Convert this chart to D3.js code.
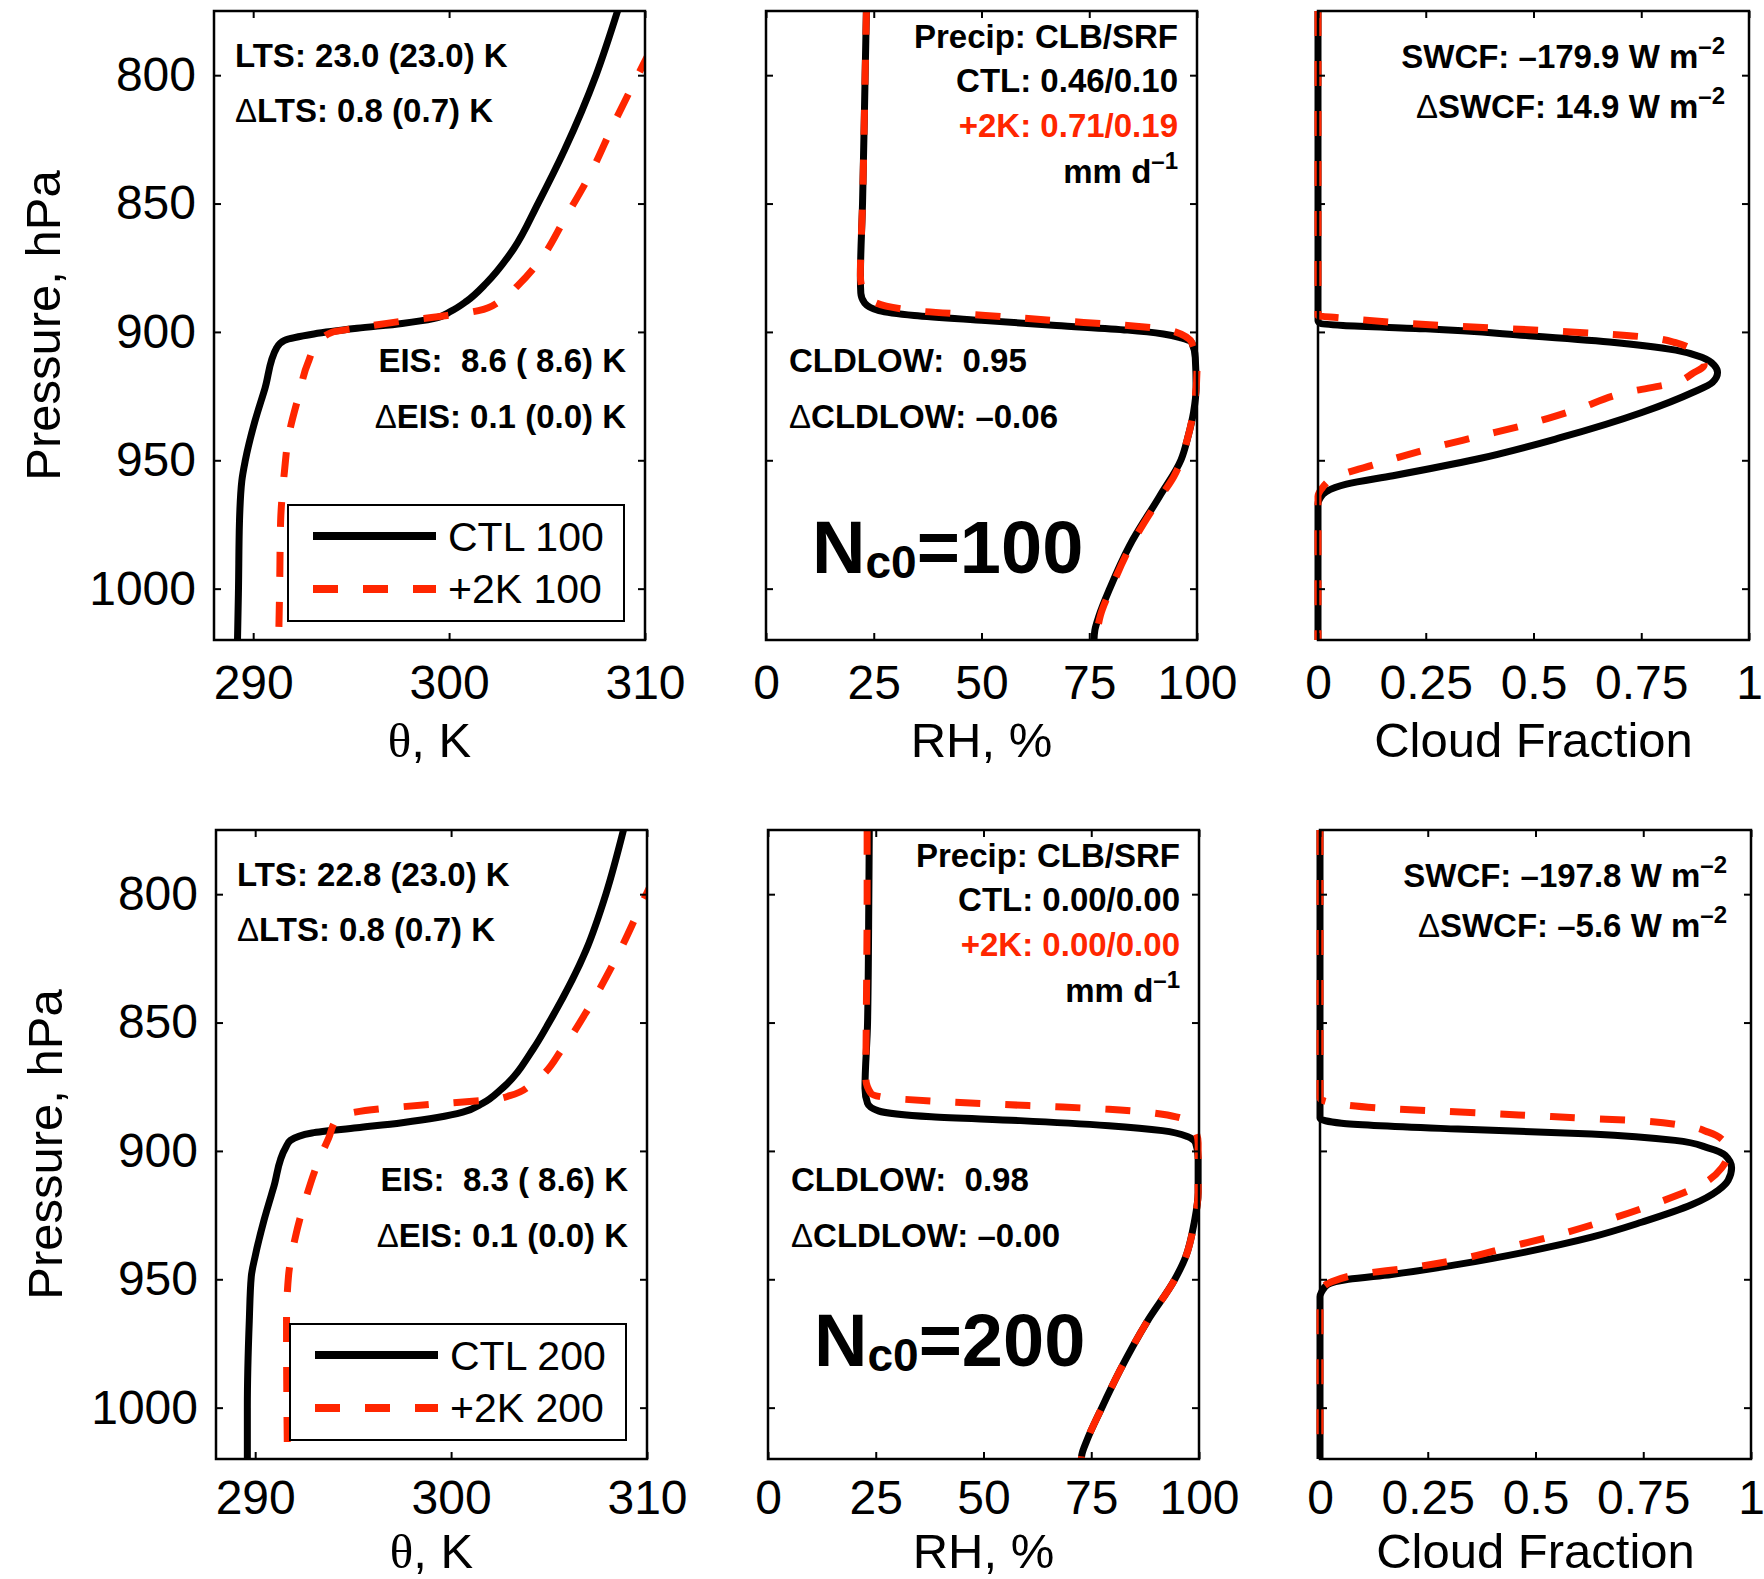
<!DOCTYPE html>
<html>
<head>
<meta charset="utf-8">
<script src="https://cdn.jsdelivr.net/npm/d3@7"></script>
<style>
  body { margin: 0; background: #fff; }
  text { font-family: "Liberation Sans", Arial, Helvetica, sans-serif; }
</style>
</head>
<body>
<div id="chart"></div>
<script>
// ---- data: [pressure hPa, value] ----
var thetaCtl100 = [[775,308.6],[800,307.5],[829,305.9],[849.8,304.55],[867.6,303.3],[881,301.9],[888,300.9],[891.9,300.1],[894.8,299.2],[896.7,297.6],[898.6,295.3],[900.8,293.1],[903.3,291.6],[906.2,291.2],[922,290.6],[935,290.08],[950,289.6],[958,289.42],[974,289.3],[1000,289.25],[1020,289.2]];
var thetaWarm100 = [[790,310.3],[796,309.9],[819,308.4],[838.6,307.2],[856,305.9],[871.5,304.7],[882,303.5],[888,302.6],[891.7,301.5],[893.6,299.9],[895.8,297.6],[898.5,295.3],[900.2,294.0],[904.4,293.3],[912,292.8],[925.5,292.3],[941,291.8],[954,291.6],[974,291.4],[1000,291.35],[1020,291.3]];
var thetaCtl200 = [[775,308.8],[800,307.9],[821.6,306.9],[850,305.0],[860.2,304.2],[875.7,302.6],[881.5,301.6],[884.9,300.6],[887,299.3],[889,297.5],[891,295.2],[893,292.9],[895.9,291.8],[898.8,291.55],[914,290.95],[927,290.45],[941,290.0],[949,289.8],[966,289.7],[1000,289.6],[1020,289.6]];
var thetaWarm200 = [[793,310.4],[799.4,310.0],[825.3,308.4],[844.6,307.0],[860,305.7],[872.7,304.3],[878.5,303.0],[880,302.1],[881.4,299.8],[882.8,297.5],[884.9,295.1],[887.3,294.2],[895,293.75],[904.6,293.2],[918.1,292.6],[933.6,292.05],[948.8,291.7],[966.2,291.6],[1000,291.62],[1020,291.65]];

var rhCtl100 = [[774.5,23.3],[800,23.0],[849.8,22.4],[879.2,21.9],[884.9,22.0],[888.8,22.9],[891.7,26.2],[893.6,34.4],[895.6,50.9],[897.5,67.4],[899.3,83.9],[900.8,92.2],[902.3,96.3],[904.2,98.8],[910,99.6],[921.6,99.8],[931.3,99.2],[940.9,97.9],[949.8,96.3],[964.1,91.3],[983.4,84.3],[999.8,79.8],[1010.4,77.3],[1016.2,76.3],[1020,76.1]];
var rhWarm100 = [[774.5,23.3],[800,23.0],[849.8,22.4],[878,21.9],[883,22.3],[887.8,24.5],[891.7,34.4],[893.6,50.9],[895.6,67.4],[897.5,83.9],[899.4,93.8],[904.2,98.8],[913.9,100],[925.5,99.6],[940.9,97.9],[956.4,94.6],[964.1,91.6],[983.4,84.6],[999.8,80.1],[1010.4,77.6],[1020,76.6]];
var rhCtl200 = [[774.9,23.5],[800,23.4],[850,23.1],[875.7,22.5],[881.5,23.1],[884.4,25.6],[886.7,37.9],[888.2,58.5],[890.2,79.1],[892.1,91.5],[894.4,97.3],[896.9,99.2],[902.7,99.8],[916.2,99.8],[927.8,98.9],[941.3,96.9],[950,94.4],[966.4,88.0],[985.7,81.6],[1000.2,77.4],[1012.7,74.0],[1018.5,72.8],[1020,72.7]];
var rhWarm200 = [[774.9,23.0],[800,23.0],[850,22.8],[871.8,22.7],[877.6,23.9],[879.5,28.9],[880.9,42.0],[881.9,54.4],[882.8,66.8],[883.8,79.1],[885.7,91.5],[889.2,98.1],[896.9,99.8],[916.2,99.8],[927.8,98.9],[941.3,96.9],[950,94.4],[966.4,88.0],[985.7,81.6],[1000.2,77.4],[1012.7,74.0],[1018.5,72.8],[1020,72.7]];

var cfCtl100 = [[775,0],[895.6,0],[896.7,0.005],[897.5,0.058],[898.8,0.25],[901.4,0.483],[903.9,0.676],[907.1,0.83],[910,0.892],[912.9,0.919],[915.8,0.927],[919.7,0.915],[923.6,0.869],[931.3,0.753],[941.3,0.56],[949.6,0.367],[956,0.174],[959.3,0.066],[962.2,0.019],[965,0.004],[967,0],[1020,0]];
var cfWarm100 = [[775,0],[893.6,0],[894.6,0.058],[897.5,0.29],[899.4,0.521],[901.9,0.753],[904.2,0.83],[909.1,0.884],[912.9,0.896],[916.2,0.869],[919.7,0.83],[923.6,0.714],[930.3,0.598],[936.1,0.483],[940.9,0.367],[945.8,0.251],[951.5,0.135],[956.4,0.042],[961.2,0.008],[964,0],[1020,0]];
var cfCtl200 = [[775,0],[887.3,0],[889.2,0.05],[891.5,0.32],[893.4,0.63],[895.9,0.824],[898.8,0.90],[901.7,0.94],[906.6,0.955],[911.4,0.947],[915.3,0.924],[921,0.862],[927.8,0.746],[933.6,0.63],[939.4,0.476],[944.2,0.321],[948.1,0.166],[950,0.066],[951.9,0.019],[954.8,0.004],[956.8,0],[1020,0]];
var cfWarm200 = [[775,0],[879.5,0],[881.5,0.035],[883.4,0.151],[884.4,0.267],[885.3,0.383],[886.3,0.499],[887.3,0.615],[888.2,0.731],[890.2,0.847],[892.7,0.901],[896.9,0.94],[900.8,0.947],[906.6,0.932],[912.4,0.893],[920.1,0.785],[926.8,0.669],[932.6,0.553],[937.5,0.437],[942.3,0.321],[945.6,0.205],[948.1,0.089],[951,0.027],[953.9,0.004],[956.8,0],[1020,0]];

// ---- axes / labels ----
var pRange = [775, 1020];
var pTicks = [800, 850, 900, 950, 1000];
var thetaTicks = [290, 300, 310];
var rhTicks = [0, 25, 50, 75, 100];
var cfTicks = [0, 0.25, 0.5, 0.75, 1];
var cfTickLabels = ["0", "0.25", "0.5", "0.75", "1"];

var ncLabels = ["100", "200"];
var legendCtl = ["CTL 100", "CTL 200"];
var legendWarm = ["+2K 100", "+2K 200"];
var ltsText = ["LTS: 23.0 (23.0) K", "LTS: 22.8 (23.0) K"];
var dltsText = ["ΔLTS: 0.8 (0.7) K", "ΔLTS: 0.8 (0.7) K"];
var eisText = ["EIS:  8.6 ( 8.6) K", "EIS:  8.3 ( 8.6) K"];
var deisText = ["ΔEIS: 0.1 (0.0) K", "ΔEIS: 0.1 (0.0) K"];
var precipCtl = ["CTL: 0.46/0.10", "CTL: 0.00/0.00"];
var precipWarm = ["+2K: 0.71/0.19", "+2K: 0.00/0.00"];
var cldlowText = ["CLDLOW:  0.95", "CLDLOW:  0.98"];
var dcldlowText = ["ΔCLDLOW: –0.06", "ΔCLDLOW: –0.00"];
var swcfText = ["SWCF: –179.9 W m^–2", "SWCF: –197.8 W m^–2"];
var dswcfText = ["ΔSWCF: 14.9 W m^–2", "ΔSWCF: –5.6 W m^–2"];

var width = 1764, height = 1579;
var panelW = 431, panelH = 629;
var colLeft = [214, 766, 1318];
var rowTop = [11, 830];
var rowShift = [0, 2];
var ncBaseline = [562, 536];
var xLabelOffset = [117, 109];
var xTickPad = [25, 21];
var red = "#ff2600";

var svg = d3.select("#chart").append("svg")
  .attr("width", width)
  .attr("height", height);

var y = d3.scaleLinear().domain(pRange).range([0, panelH]);

var rows = [
  { theta: [thetaCtl100, thetaWarm100], rh: [rhCtl100, rhWarm100], cf: [cfCtl100, cfWarm100] },
  { theta: [thetaCtl200, thetaWarm200], rh: [rhCtl200, rhWarm200], cf: [cfCtl200, cfWarm200] }
];

var panels = [
  { key: "theta", domain: [288, 310], ticks: thetaTicks, fmt: function(d) { return String(d); }, clipRight: 0 },
  { key: "rh", domain: [0, 100], ticks: rhTicks, fmt: function(d) { return String(d); }, clipRight: 8 },
  { key: "cf", domain: [0, 1], ticks: cfTicks, fmt: function(d, i) { return cfTickLabels[i]; }, clipRight: 8 }
];

var sortP = function(arr) {
  return arr.slice().sort(function(a, b) { return a[0] - b[0]; });
};

// bold annotation, "Δ" drawn light, "^" starts a superscript
var note = function(g, x, yb, anchor, str, fill) {
  var t = g.append("text")
    .attr("x", x).attr("y", yb)
    .attr("text-anchor", anchor)
    .attr("fill", fill || "#000")
    .style("font-size", "33px")
    .style("font-weight", "bold")
    .style("white-space", "pre");
  var main = str.split("^");
  var body = main[0];
  if (body.charAt(0) == "Δ") {
    t.append("tspan").style("font-weight", "normal").text("Δ");
    body = body.slice(1);
  }
  t.append("tspan").text(body);
  if (main.length > 1) {
    t.append("tspan").attr("dy", -14).style("font-size", "24px").text(main[1]);
  }
  return t;
};

var styleAxis = function(ag) {
  ag.attr("font-size", null).attr("font-family", null);
  ag.select(".domain").remove();
  ag.selectAll(".tick line").attr("stroke", "#000").attr("stroke-width", 2);
  ag.selectAll(".tick text").attr("fill", "#000").style("font-size", "48px");
};

rows.forEach(function(row, r) {
  panels.forEach(function(pn, c) {
    var left = colLeft[c] + rowShift[r];
    var top = rowTop[r];
    var g = svg.append("g").attr("transform", "translate(" + left + "," + top + ")");
    var x = d3.scaleLinear().domain(pn.domain).range([0, panelW]);

    var clipId = "clip_" + r + "_" + c;
    g.append("clipPath").attr("id", clipId)
      .append("rect")
      .attr("x", -8).attr("y", 0)
      .attr("width", panelW + 8 + pn.clipRight).attr("height", panelH);

    var line = d3.line()
      .x(function(d) { return x(d[1]); })
      .y(function(d) { return y(d[0]); })
      .curve(d3.curveMonotoneY);

    var lines = g.append("g").attr("clip-path", "url(#" + clipId + ")");
    var series = row[pn.key];
    lines.append("path")
      .datum(sortP(series[0]))
      .attr("d", line)
      .attr("fill", "none")
      .attr("stroke", "#000")
      .attr("stroke-width", 7)
      .attr("stroke-linejoin", "round");
    lines.append("path")
      .datum(sortP(series[1]))
      .attr("d", line)
      .attr("fill", "none")
      .attr("stroke", red)
      .attr("stroke-width", 7)
      .attr("stroke-dasharray", "25,25");

    // box + inward ticks on all four sides
    g.append("g").attr("transform", "translate(0," + panelH + ")")
      .call(d3.axisBottom(x).tickValues(pn.ticks).tickSize(-7).tickPadding(xTickPad[r]).tickFormat(pn.fmt))
      .call(styleAxis);
    g.append("g")
      .call(d3.axisTop(x).tickValues(pn.ticks).tickSize(-7).tickFormat(""))
      .call(styleAxis);
    g.append("g")
      .call(d3.axisLeft(y).tickValues(pTicks).tickSize(-7).tickPadding(18)
        .tickFormat(c == 0 ? function(d) { return String(d); } : ""))
      .call(styleAxis);
    g.append("g").attr("transform", "translate(" + panelW + ",0)")
      .call(d3.axisRight(y).tickValues(pTicks).tickSize(-7).tickFormat(""))
      .call(styleAxis);
    g.append("rect")
      .attr("width", panelW).attr("height", panelH)
      .attr("fill", "none").attr("stroke", "#000").attr("stroke-width", 2.5);

    // x axis label
    var xl = g.append("text")
      .attr("x", panelW / 2).attr("y", panelH + xLabelOffset[r])
      .attr("text-anchor", "middle")
      .style("font-size", "49px");
    if (pn.key == "theta") {
      xl.append("tspan").style("font-family", "'Liberation Serif', 'Times New Roman', serif").text("θ");
      xl.append("tspan").text(", K");
    } else if (pn.key == "rh") {
      xl.text("RH, %");
    } else {
      xl.text("Cloud Fraction");
    }

    if (pn.key == "theta") {
      g.append("text")
        .attr("transform", "translate(-154," + (panelH / 2) + ") rotate(-90)")
        .attr("text-anchor", "middle")
        .style("font-size", "49px")
        .text("Pressure, hPa");

      note(g, 21, 56, "start", ltsText[r]);
      note(g, 21, 111, "start", dltsText[r]);
      note(g, panelW - 19, 361, "end", eisText[r]);
      note(g, panelW - 19, 417, "end", deisText[r]);

      // legend
      var lg = g.append("g").attr("transform", "translate(74,494)");
      lg.append("rect").attr("width", 336).attr("height", 116)
        .attr("fill", "#fff").attr("stroke", "#000").attr("stroke-width", 2);
      lg.append("line").attr("x1", 25).attr("x2", 148).attr("y1", 31).attr("y2", 31)
        .attr("stroke", "#000").attr("stroke-width", 8);
      lg.append("line").attr("x1", 25).attr("x2", 148).attr("y1", 84).attr("y2", 84)
        .attr("stroke", red).attr("stroke-width", 8).attr("stroke-dasharray", "25,25");
      lg.append("text").attr("x", 160).attr("y", 46).style("font-size", "41px").text(legendCtl[r]);
      lg.append("text").attr("x", 160).attr("y", 98).style("font-size", "41px").text(legendWarm[r]);
    }

    if (pn.key == "rh") {
      note(g, panelW - 19, 37, "end", "Precip: CLB/SRF");
      note(g, panelW - 19, 81, "end", precipCtl[r]);
      note(g, panelW - 19, 126, "end", precipWarm[r], red);
      note(g, panelW - 19, 172, "end", "mm d^–1");
      note(g, 23, 361, "start", cldlowText[r]);
      note(g, 23, 417, "start", dcldlowText[r]);

      var nc = g.append("text")
        .attr("x", 46).attr("y", ncBaseline[r])
        .style("font-size", "74px")
        .style("font-weight", "bold");
      nc.append("tspan").text("N");
      nc.append("tspan").attr("dy", 5).style("font-size", "46px").text("c0");
      nc.append("tspan").attr("dy", -5).text("=" + ncLabels[r]);
    }

    if (pn.key == "cf") {
      note(g, panelW - 24, 57, "end", swcfText[r]);
      note(g, panelW - 24, 107, "end", dswcfText[r]);
    }
  });
});
</script>
</body>
</html>
